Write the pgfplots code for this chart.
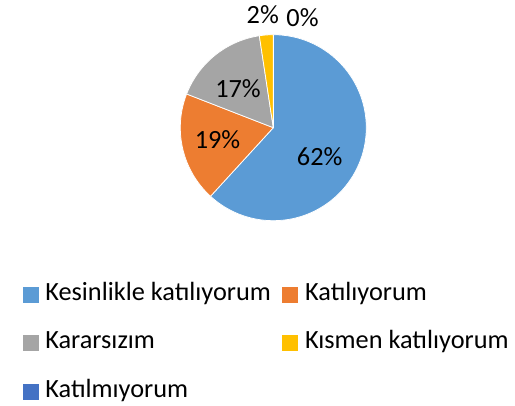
\documentclass[border=0pt]{standalone}
\usepackage{fontspec}
\setmainfont{Carlito}
\usepackage{pgfplots}
\usepackage{pgfplotstable}
\pgfplotsset{compat=1.18}
\definecolor{cA}{HTML}{5B9BD5}
\definecolor{cB}{HTML}{ED7D31}
\definecolor{cC}{HTML}{A5A5A5}
\definecolor{cD}{HTML}{FFC000}
\definecolor{cE}{HTML}{4472C4}
\newcommand\lblfont{\fontsize{26.3}{31}\selectfont}
% value = percent share, col = colour, lab = shown label, lx/ly = label base point (pixels from top-left)
\pgfplotstableread[col sep=comma]{
value,col,lab,lx,ly
61.8,cA,62,319.7,165.7
19.1,cB,19,217.5,149
16.7,cC,17,238,97.7
2.4,cD,2,262.8,23.3
0,cE,0,302.5,26.7
}\piedata
\begin{document}
\begin{tikzpicture}
\begin{axis}[
  scale only axis, width=515pt, height=406pt,
  xmin=0, xmax=515, ymin=0, ymax=406,
  hide axis, clip=false,
  legend columns=2,
  legend cell align=left,
  legend style={
    at={(22.7/515,1-282.7/406)}, anchor=north west,
    draw=none, fill=none, inner sep=0pt, outer sep=0pt,
    row sep=24.3pt,
    nodes={inner sep=0pt, outer sep=0pt, text height=18pt, text depth=6pt, font=\lblfont},
    /tikz/every odd column/.append style={column sep=7.3pt},
    /tikz/every even column/.append style={column sep=11.5pt},
  },
]
\pgfplotstablegetrowsof{\piedata}
\pgfmathtruncatemacro\nrows{\pgfplotsretval-1}
\gdef\cumang{90}
\pgfplotsforeachungrouped \i in {0,...,\nrows}{%
  \pgfplotstablegetelem{\i}{value}\of\piedata \let\slval\pgfplotsretval
  \pgfplotstablegetelem{\i}{col}\of\piedata \let\slcol\pgfplotsretval
  \pgfplotstablegetelem{\i}{lab}\of\piedata \let\sllab\pgfplotsretval
  \pgfplotstablegetelem{\i}{lx}\of\piedata \let\sllx\pgfplotsretval
  \pgfplotstablegetelem{\i}{ly}\of\piedata \let\slly\pgfplotsretval
  \pgfmathsetmacro\endang{\cumang-3.6*\slval}
  \pgfmathsetmacro\sx{273.3+93*cos(\cumang)}
  \pgfmathsetmacro\sy{278.3+93*sin(\cumang)}
  \pgfmathsetmacro\py{406-\slly}
  \edef\temp{%
    \noexpand\fill[fill=\slcol, draw=white, line width=0.75pt, line join=round]
      (axis cs:273.3,278.3) -- (axis cs:\sx,\sy)
      arc[start angle=\cumang, end angle=\endang, radius=93pt] -- cycle;
    \noexpand\node[anchor=base, inner sep=0pt, font=\noexpand\lblfont]
      at (axis cs:\sllx,\py) {\sllab\noexpand\%};
  }%
  \temp
  \global\let\cumang\endang
}
\addlegendimage{legend image code/.code={\fill[cA] (0pt,-7.5pt) rectangle (15pt,7.5pt);}}
\addlegendentry{Kesinlikle katılıyorum}
\addlegendimage{legend image code/.code={\fill[cB] (0pt,-7.5pt) rectangle (15pt,7.5pt);}}
\addlegendentry{Katılıyorum}
\addlegendimage{legend image code/.code={\fill[cC] (0pt,-7.5pt) rectangle (15pt,7.5pt);}}
\addlegendentry{Kararsızım}
\addlegendimage{legend image code/.code={\fill[cD] (0pt,-7.5pt) rectangle (15pt,7.5pt);}}
\addlegendentry{Kısmen katılıyorum}
\addlegendimage{legend image code/.code={\fill[cE] (0pt,-7.5pt) rectangle (15pt,7.5pt);}}
\addlegendentry{Katılmıyorum}
\end{axis}
\path (current axis.south west) rectangle (current axis.north east);
\end{tikzpicture}
\end{document}
